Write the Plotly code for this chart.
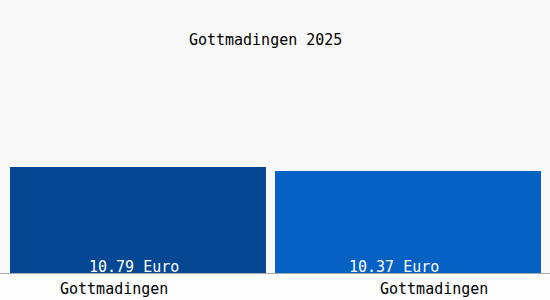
import plotly.graph_objects as go

title = "Gottmadingen 2025"
categories = ["Gottmadingen", "Gottmadingen "]
values = [10.79, 10.37]
value_labels = ["10.79 Euro", "10.37 Euro"]
tick_labels = ["Gottmadingen", "Gottmadingen"]
colors = ["#044792", "#0561c4"]

FONT = "DejaVu Sans Mono"

fig = go.Figure()
fig.add_trace(go.Bar(
    x=[0, 1], y=values,
    width=[0.931, 0.967], offset=[-0.4636, -0.5],
    marker=dict(color=colors, line=dict(width=0)),
    hoverinfo="skip",
))

label_shift = [-4, -18.5]
for i, (v, t) in enumerate(zip(values, value_labels)):
    fig.add_annotation(x=i, y=0, xref="x", yref="y", text=t, showarrow=False,
                       yanchor="bottom", yshift=-5, xshift=label_shift[i],
                       font=dict(family=FONT, size=15, color="white"))

tick_shift = [-23.5, 21.5]
for i, t in enumerate(tick_labels):
    fig.add_annotation(x=i, y=0, xref="x", yref="y", text=t, showarrow=False,
                       yanchor="top", yshift=-5, xshift=tick_shift[i],
                       font=dict(family=FONT, size=15, color="black"))

fig.add_shape(type="rect", xref="paper", yref="paper", x0=0, x1=1, y0=-1, y1=0,
              fillcolor="#fdfdfd", line=dict(width=0), layer="below")

fig.update_layout(
    width=550, height=300,
    margin=dict(l=0, r=0, t=50, b=27),
    paper_bgcolor="#f8f8f8", plot_bgcolor="#f8f8f8",
    showlegend=False,
    title=dict(text=title, x=0.483, xanchor="center", y=1 - 40/300, yanchor="middle",
               font=dict(family=FONT, size=15, color="black")),
    xaxis=dict(range=[-0.5, 1.5], showticklabels=False, showgrid=False, zeroline=False,
               showline=True, linecolor="#aaaaaa", linewidth=1, ticks=""),
    yaxis=dict(range=[0, 22.7], visible=False, fixedrange=True),
    bargap=0,
)

fig.write_html("out.html")
